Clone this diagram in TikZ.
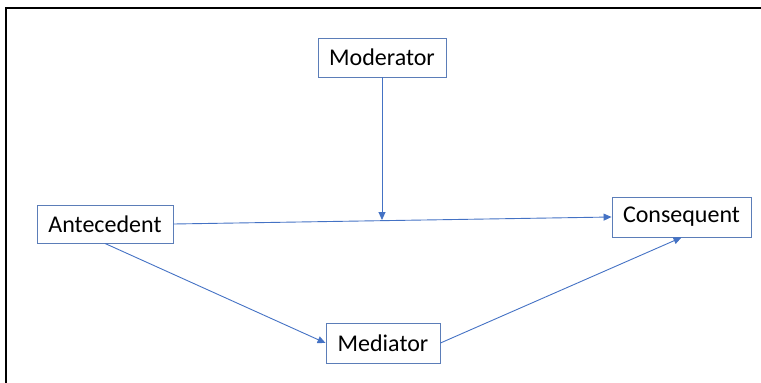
\documentclass[tikz,border=0pt]{standalone}
\usepackage{fontspec}
\setmainfont{Carlito}
\usetikzlibrary{arrows.meta}
\definecolor{boxline}{HTML}{5B7DB8}
\definecolor{arrowc}{HTML}{4472C4}
\begin{document}
\begin{tikzpicture}[x=1pt,y=-1pt,
  vbox/.style={draw=boxline, line width=0.9pt, fill=white, inner sep=0pt, font=\fontsize{24}{28}\selectfont, text=black},
  conn/.style={draw=arrowc, line width=0.9pt, -{Triangle[length=8pt,width=7pt]}}]
\useasboundingbox (0,0) rectangle (761,383);
\draw[line width=2pt, black] (5,8) -- (761,8);
\draw[line width=2pt, black] (6,7) -- (6,383);
\node[vbox, minimum width=128pt, minimum height=39pt] (mod) at (382,57.5) {Moderator};
\node[vbox, minimum width=136pt, minimum height=38pt] (ant) at (105,224) {Antecedent};
\node[vbox, minimum width=139pt, minimum height=40pt] (con) at (681.5,217) {Consequent};
\node[vbox, minimum width=114pt, minimum height=40pt] (med) at (383,343) {Mediator};
\coordinate (mid) at (382,220);
\draw[conn] (ant.east) -- (con.west);
\draw[conn] (mod.south) -- (mid);
\draw[conn] (ant.south) -- (med.west);
\draw[conn] (med.east) -- (con.south);
\end{tikzpicture}
\end{document}
